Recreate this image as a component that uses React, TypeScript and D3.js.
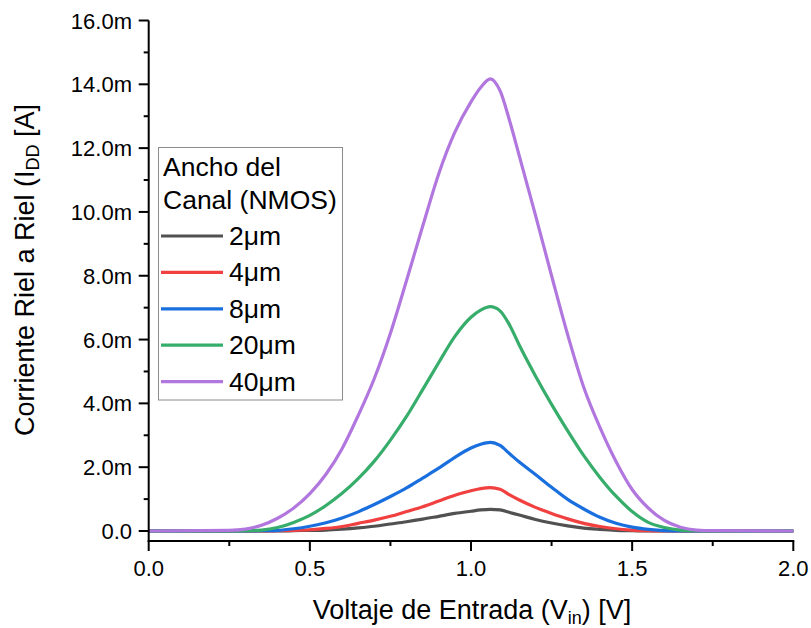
import React from "react";
import * as d3 from "d3";

const voltages = [0, 0.25, 0.3, 0.35, 0.4, 0.45, 0.5, 0.55, 0.6, 0.65, 0.7, 0.75, 0.8, 0.85, 0.9, 0.95, 1.0, 1.03, 1.06, 1.09, 1.12, 1.15, 1.2, 1.25, 1.3, 1.35, 1.4, 1.45, 1.5, 1.55, 1.6, 1.65, 1.7, 1.75, 2.0];

// currents in mA
const w2 = [0, 0, 0, 0, 0, 0.01, 0.02, 0.03, 0.06, 0.1, 0.15, 0.22, 0.29, 0.37, 0.46, 0.55, 0.62, 0.66, 0.68, 0.66, 0.58, 0.5, 0.36, 0.25, 0.16, 0.09, 0.05, 0.02, 0.01, 0, 0, 0, 0, 0, 0];
const w4 = [0, 0, 0, 0, 0.01, 0.02, 0.04, 0.08, 0.14, 0.24, 0.34, 0.46, 0.61, 0.76, 0.94, 1.12, 1.26, 1.33, 1.36, 1.31, 1.13, 0.97, 0.74, 0.55, 0.38, 0.24, 0.14, 0.07, 0.03, 0.01, 0, 0, 0, 0, 0];
const w8 = [0, 0, 0, 0.01, 0.02, 0.07, 0.15, 0.26, 0.41, 0.6, 0.83, 1.08, 1.35, 1.66, 1.97, 2.31, 2.6, 2.72, 2.78, 2.68, 2.42, 2.16, 1.77, 1.37, 0.99, 0.69, 0.43, 0.24, 0.12, 0.05, 0.01, 0, 0, 0, 0];
const w20 = [0, 0, 0.01, 0.03, 0.11, 0.27, 0.49, 0.8, 1.18, 1.64, 2.19, 2.85, 3.59, 4.43, 5.28, 6.1, 6.7, 6.92, 7.03, 6.9, 6.45, 5.82, 4.86, 3.97, 3.14, 2.36, 1.68, 1.09, 0.61, 0.27, 0.11, 0.03, 0.01, 0, 0];
const w40 = [0, 0.02, 0.06, 0.18, 0.4, 0.72, 1.17, 1.78, 2.58, 3.62, 4.78, 6.2, 7.85, 9.55, 11.2, 12.5, 13.45, 13.9, 14.17, 13.8, 12.85, 11.75, 9.9, 8.0, 6.15, 4.5, 3.25, 2.18, 1.3, 0.72, 0.33, 0.12, 0.03, 0.01, 0];

const seriesNames = ["2\u03bcm", "4\u03bcm", "8\u03bcm", "20\u03bcm", "40\u03bcm"];
const seriesValues = [w2, w4, w8, w20, w40];
const seriesColors = ["#515151", "#F14040", "#1A6FDF", "#37AD6B", "#B177DE"];

const xTicks = [0, 0.5, 1.0, 1.5, 2.0];
const xMinor = [0.25, 0.75, 1.25, 1.75];
const yTicks = [0, 2, 4, 6, 8, 10, 12, 14, 16];
const yMinor = [1, 3, 5, 7, 9, 11, 13, 15];

const FONT = "Liberation Sans, Arial, sans-serif";

export default function App() {
  const x = d3.scaleLinear().domain([0, 2]).range([148.7, 793.3]);
  const y = d3.scaleLinear().domain([0, 16]).range([531, 20.5]);
  const axisY = 541;
  const line = d3
    .line<[number, number]>()
    .x((d) => x(d[0]))
    .y((d) => y(d[1]))
    .curve(d3.curveMonotoneX);

  const legendX = 158.5;
  const legendY = 147.5;
  const legendRowY = (i: number) => 236 + i * 36.4;

  return (
    <svg
      width={811}
      height={628}
      style={{ position: "absolute", left: 0, top: 0, background: "#fff" }}
      fontFamily={FONT}
    >
      <rect x={0} y={0} width={811} height={628} fill="#fff" />
      {seriesValues.map((vals, i) => (
        <path
          key={i}
          d={line(voltages.map((v, j) => [v, vals[j]] as [number, number])) || ""}
          fill="none"
          stroke={seriesColors[i]}
          strokeWidth={3.2}
          strokeLinejoin="round"
        />
      ))}
      <line x1={x(0)} x2={x(0)} y1={y(16)} y2={axisY + 1} stroke="#000" strokeWidth={2} />
      <line x1={x(0) - 1} x2={x(2) + 1} y1={axisY} y2={axisY} stroke="#000" strokeWidth={2} />
      {yTicks.map((t) => (
        <g key={"yt" + t}>
          <line x1={x(0) - 10} x2={x(0)} y1={y(t)} y2={y(t)} stroke="#000" strokeWidth={2} />
          <text x={132} y={y(t) + 8} textAnchor="end" fontSize={22}>
            {t === 0 ? "0.0" : t.toFixed(1) + "m"}
          </text>
        </g>
      ))}
      {yMinor.map((t) => (
        <line key={"ym" + t} x1={x(0) - 5} x2={x(0)} y1={y(t)} y2={y(t)} stroke="#000" strokeWidth={2} />
      ))}
      {xTicks.map((t) => (
        <g key={"xt" + t}>
          <line x1={x(t)} x2={x(t)} y1={axisY} y2={axisY + 10} stroke="#000" strokeWidth={2} />
          <text x={x(t)} y={576} textAnchor="middle" fontSize={22}>
            {t.toFixed(1)}
          </text>
        </g>
      ))}
      {xMinor.map((t) => (
        <line key={"xm" + t} x1={x(t)} x2={x(t)} y1={axisY} y2={axisY + 5} stroke="#000" strokeWidth={2} />
      ))}
      <text x={472} y={619} textAnchor="middle" fontSize={27}>
        Voltaje de Entrada (V<tspan fontSize={18} dy={5}>in</tspan>
        <tspan dy={-5}>) [V]</tspan>
      </text>
      <text transform="translate(34,270) rotate(-90)" textAnchor="middle" fontSize={27}>
        Corriente Riel a Riel (I<tspan fontSize={18} dy={5}>DD</tspan>
        <tspan dy={-5}> [A]</tspan>
      </text>
      <rect x={legendX} y={legendY} width={184} height={252.5} fill="#fff" stroke="#8c8c8c" strokeWidth={1} />
      <text x={163} y={176} fontSize={26.5}>Ancho del</text>
      <text x={163} y={209} fontSize={26.5}>Canal (NMOS)</text>
      {seriesNames.map((n, i) => (
        <g key={"lg" + i}>
          <line x1={161} x2={223} y1={legendRowY(i)} y2={legendRowY(i)} stroke={seriesColors[i]} strokeWidth={3.2} />
          <text x={229} y={legendRowY(i) + 9} fontSize={26.5}>{n}</text>
        </g>
      ))}
    </svg>
  );
}
